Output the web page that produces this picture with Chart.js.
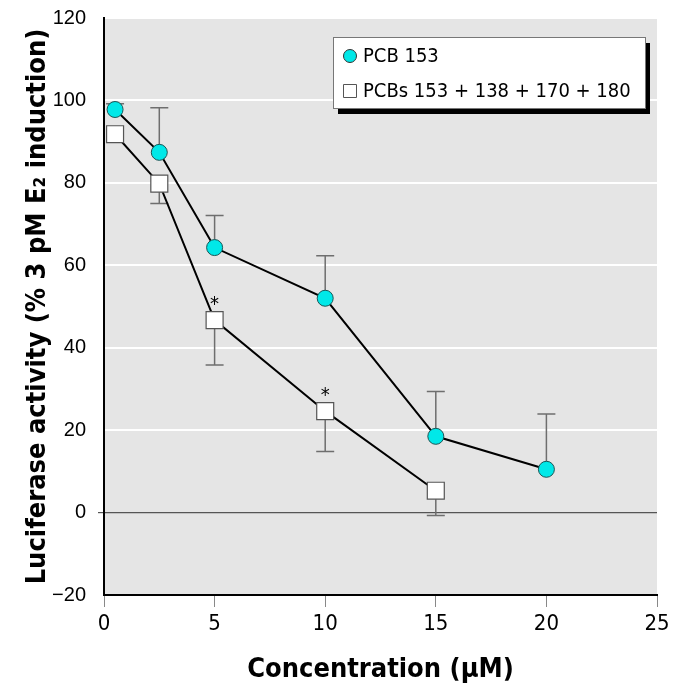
<!DOCTYPE html>
<html>
<head>
<meta charset="utf-8">
<script src="https://cdn.jsdelivr.net/npm/chart.js@4/dist/chart.umd.min.js"></script>
<style>
  html, body { margin: 0; padding: 0; background: #fff; }
  #wrap { width: 674px; height: 690px; }
</style>
</head>
<body>
<div id="wrap"><canvas id="chart" width="674" height="690"></canvas></div>
<script>
// data
const concPcb153 = [0.5, 2.5, 5, 10, 15, 20];
const pcb153 = [97.8, 87.4, 64.3, 52.0, 18.5, 10.5];
const pcb153Upper = [99.2, 98.2, 72.1, 62.3, 29.4, 23.9];

const concMix = [0.5, 2.5, 5, 10, 15];
const pcbMix = [91.8, 79.8, 46.7, 24.6, 5.3];
const pcbMixLower = [91.8, 75.0, 35.8, 14.8, -0.7];
const mixSignificant = [false, false, true, true, false];

const yTicks = [-20, 0, 20, 40, 60, 80, 100, 120];
const xTicks = [0, 5, 10, 15, 20, 25];

const narrow = "'Liberation Sans Narrow', 'DejaVu Sans Condensed', 'Roboto Condensed', sans-serif";

// gray plot background
const plotBackground = {
  id: 'plotBackground',
  beforeDraw(chart) {
    const { ctx, chartArea: a } = chart;
    ctx.save();
    ctx.fillStyle = '#e5e5e5';
    ctx.fillRect(a.left, a.top, a.right - a.left, a.bottom - a.top);
    ctx.restore();
  }
};

// one-sided error bars and asterisks
const errorBars = {
  id: 'errorBars',
  beforeDatasetsDraw(chart) {
    const { ctx, scales } = chart;
    const x = scales.x, y = scales.y;
    ctx.save();
    ctx.strokeStyle = '#6e6e6e';
    ctx.lineWidth = 1.5;
    const cap = 9;
    function bar(cx, from, to) {
      const px = x.getPixelForValue(cx);
      const p1 = y.getPixelForValue(from);
      const p2 = y.getPixelForValue(to);
      if (Math.abs(p1 - p2) < 1) return;
      ctx.beginPath();
      ctx.moveTo(px, p1); ctx.lineTo(px, p2);
      ctx.moveTo(px - cap, p2); ctx.lineTo(px + cap, p2);
      ctx.stroke();
    }
    concPcb153.forEach((c, i) => bar(c, pcb153[i], pcb153Upper[i]));
    concMix.forEach((c, i) => bar(c, pcbMix[i], pcbMixLower[i]));
    ctx.restore();
  },
  afterDatasetsDraw(chart) {
    const { ctx, scales } = chart;
    ctx.save();
    ctx.fillStyle = '#000';
    ctx.font = "20px " + narrow;
    ctx.textAlign = 'center';
    ctx.textBaseline = 'alphabetic';
    concMix.forEach((c, i) => {
      if (!mixSignificant[i]) return;
      const px = scales.x.getPixelForValue(c);
      const py = scales.y.getPixelForValue(pcbMix[i]);
      ctx.fillText('*', px, py - 10);
    });
    ctx.restore();
  }
};

// boxed legend with black drop shadow
const boxLegend = {
  id: 'boxLegend',
  afterDraw(chart) {
    const { ctx } = chart;
    const bx = 333, by = 37, bw = 312, bh = 71;
    ctx.save();
    ctx.fillStyle = '#000';
    ctx.fillRect(bx + 5, by + 6, bw, bh);
    ctx.fillStyle = '#fff';
    ctx.fillRect(bx, by, bw, bh);
    ctx.strokeStyle = '#777';
    ctx.lineWidth = 1;
    ctx.strokeRect(bx + 0.5, by + 0.5, bw, bh);

    ctx.font = "20px " + narrow;
    ctx.textBaseline = 'middle';
    ctx.fillStyle = '#000';
    chart.data.datasets.forEach((ds, i) => {
      const cy = by + 19 + i * 35;
      const mx = bx + 17;
      ctx.beginPath();
      if (ds.pointStyle === 'circle') {
        ctx.arc(mx, cy, 6.5, 0, Math.PI * 2);
        ctx.fillStyle = ds.pointBackgroundColor;
        ctx.fill();
        ctx.strokeStyle = '#333';
        ctx.stroke();
      } else {
        ctx.rect(mx - 6.5, cy - 6.5, 13, 13);
        ctx.fillStyle = ds.pointBackgroundColor;
        ctx.fill();
        ctx.strokeStyle = '#555';
        ctx.stroke();
      }
      ctx.fillStyle = '#000';
      ctx.fillText(ds.label, bx + 30, cy + 1);
    });
    ctx.restore();
  }
};

new Chart(document.getElementById('chart'), {
  type: 'scatter',
  data: {
    datasets: [
      {
        label: 'PCB 153',
        data: concPcb153.map((c, i) => ({ x: c, y: pcb153[i] })),
        showLine: true,
        borderColor: '#000',
        borderWidth: 2,
        pointStyle: 'circle',
        pointRadius: 8,
        pointBackgroundColor: '#00e8e8',
        pointBorderColor: '#1a5555',
        pointBorderWidth: 1
      },
      {
        label: 'PCBs 153 + 138 + 170 + 180',
        data: concMix.map((c, i) => ({ x: c, y: pcbMix[i] })),
        showLine: true,
        borderColor: '#000',
        borderWidth: 2,
        pointStyle: 'rect',
        pointRadius: 12,
        pointBackgroundColor: '#fff',
        pointBorderColor: '#555',
        pointBorderWidth: 1.2
      }
    ]
  },
  options: {
    responsive: false,
    animation: false,
    layout: { padding: { top: 18, right: 17, left: 0, bottom: 0 } },
    plugins: {
      legend: { display: false },
      tooltip: { enabled: false }
    },
    scales: {
      x: {
        type: 'linear',
        min: 0,
        max: 25,
        afterBuildTicks: (s) => { s.ticks = xTicks.map(v => ({ value: v })); },
        afterFit: (s) => { s.height = 95; },
        border: { display: true, color: '#000', width: 2 },
        grid: { drawOnChartArea: false, drawTicks: true, tickLength: 12, color: '#888', lineWidth: 1 },
        ticks: { color: '#000', padding: 4, font: { family: narrow, size: 22 } },
        title: {
          display: true,
          text: 'Concentration (μM)',
          color: '#000',
          padding: { top: 10 },
          font: { family: narrow, size: 27, weight: 'bold' }
        }
      },
      y: {
        type: 'linear',
        min: -20,
        max: 120,
        afterBuildTicks: (s) => { s.ticks = yTicks.map(v => ({ value: v })); },
        afterFit: (s) => { s.width = 104; s.paddingTop = 0; s.paddingBottom = 0; },
        border: { display: true, color: '#000', width: 2 },
        grid: {
          drawTicks: true,
          tickLength: 6,
          color: (c) => c.tick.value === 0 ? '#555' : (c.tick.value === -20 ? 'rgba(0,0,0,0)' : '#fff'),
          lineWidth: (c) => c.tick.value === 0 ? 1.2 : 2
        },
        ticks: {
          color: '#000',
          padding: 12,
          callback: (v) => v < 0 ? '\u2212' + Math.abs(v) : String(v),
          font: { family: "'Liberation Sans', Arial, sans-serif", size: 20 }
        },
        title: {
          display: true,
          text: 'Luciferase activity (% 3 pM E\u2082 induction)',
          color: '#000',
          padding: { top: 22, bottom: 0 },
          font: { family: narrow, size: 27, weight: 'bold' }
        }
      }
    }
  },
  plugins: [plotBackground, errorBars, boxLegend]
});
</script>
</body>
</html>
